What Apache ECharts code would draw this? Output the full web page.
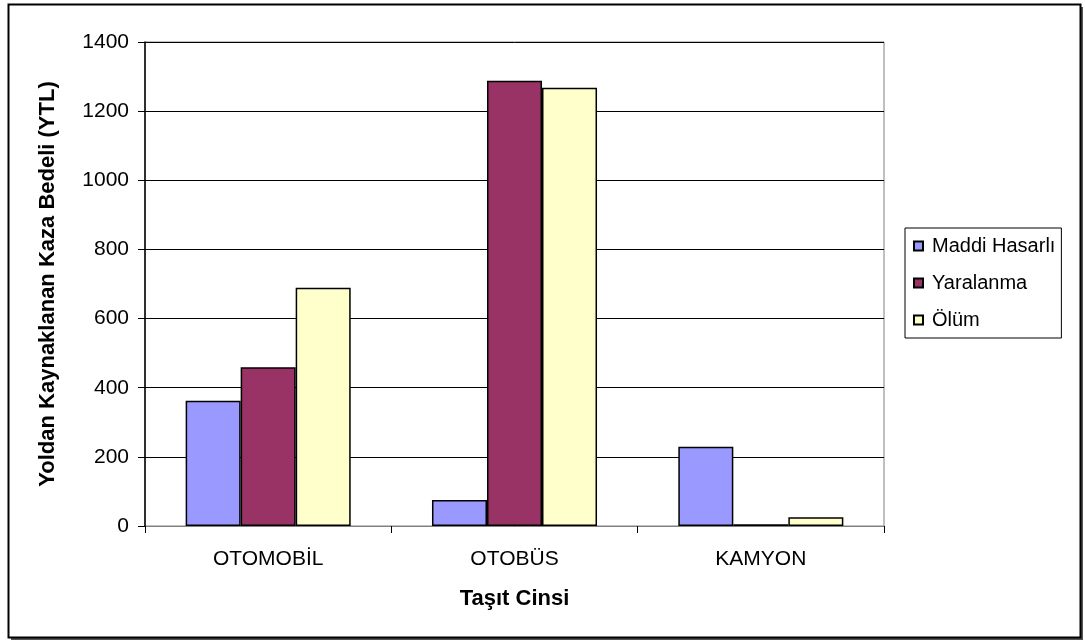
<!DOCTYPE html>
<html>
<head>
<meta charset="utf-8">
<script src="https://cdn.jsdelivr.net/npm/echarts@6/dist/echarts.min.js"></script>
<style>
  html, body { margin: 0; padding: 0; background: #fff; }
  #chart { width: 1085px; height: 643px; }
</style>
</head>
<body>
<div id="chart"></div>
<script>
// Road-related accident cost by vehicle type
const categories = ['OTOMOBİL', 'OTOBÜS', 'KAMYON'];
const seriesNames = ['Maddi Hasarlı', 'Yaralanma', 'Ölüm'];
const maddiHasarli = [362, 75, 229];
const yaralanma = [459, 1288, 5];
const olum = [689, 1268, 25];
const yTicks = [0, 200, 400, 600, 800, 1000, 1200, 1400];

const colors = ['#9999FF', '#993366', '#FFFFCC'];
const font = 'Arial, "Liberation Sans", sans-serif';

const chart = echarts.init(document.getElementById('chart'), null, { renderer: 'canvas' });

const values = [maddiHasarli, yaralanma, olum];

chart.setOption({
  animation: false,
  backgroundColor: '#fff',
  color: colors,
  textStyle: { fontFamily: font },
  grid: {
    left: 145, right: 201, top: 42, bottom: 117,
    show: true, borderColor: '#808080', borderWidth: 1, backgroundColor: 'transparent'
  },
  legend: {
    orient: 'vertical',
    left: 905, top: 228,
    padding: [8, 6, 8, 8],
    itemGap: 17,
    itemWidth: 9, itemHeight: 9,
    icon: 'rect',
    borderColor: '#000', borderWidth: 1,
    textStyle: { fontSize: 20, color: '#000', fontFamily: font, padding: [0, 0, 0, 4] },
    data: seriesNames
  },
  xAxis: {
    type: 'category',
    data: categories,
    name: 'Taşıt Cinsi',
    nameLocation: 'middle',
    nameGap: 62,
    nameTextStyle: { fontSize: 22, fontWeight: 'bold', color: '#000', fontFamily: font },
    axisLine: { lineStyle: { color: '#808080', width: 1 } },
    axisTick: { show: true, alignWithLabel: false, length: 7, lineStyle: { color: '#000' } },
    axisLabel: { fontSize: 21, color: '#000', margin: 23, fontFamily: font }
  },
  yAxis: {
    type: 'value',
    min: 0, max: 1400, interval: 200,
    name: 'Yoldan Kaynaklanan Kaza Bedeli (YTL)',
    nameLocation: 'middle',
    nameGap: 86,
    nameRotate: 90,
    nameTextStyle: { fontSize: 22, fontWeight: 'bold', color: '#000', fontFamily: font },
    axisLine: { show: true, lineStyle: { color: '#000', width: 1.5 } },
    axisTick: { show: true, length: 7, lineStyle: { color: '#000' } },
    axisLabel: {
      fontSize: 21, color: '#000', margin: 16, fontFamily: font,
      formatter: v => (yTicks.includes(v) ? String(v) : '')
    },
    splitLine: { show: true, lineStyle: { color: '#000', width: 1 } }
  },
  series: seriesNames.map((name, i) => ({
    name,
    type: 'bar',
    data: values[i],
    barGap: '0%',
    barCategoryGap: '33%',
    itemStyle: { color: colors[i], borderColor: '#000', borderWidth: 1.5 }
  })),
  graphic: [
    {
      type: 'rect',
      shape: { x: 11, y: 7, width: 1072, height: 633 },
      style: { fill: '#555', stroke: null },
      z: -2
    },
    {
      type: 'rect',
      shape: { x: 8.5, y: 4.5, width: 1072, height: 633 },
      style: { fill: '#fff', stroke: '#000', lineWidth: 2 },
      z: -1
    }
  ]
});
</script>
</body>
</html>
